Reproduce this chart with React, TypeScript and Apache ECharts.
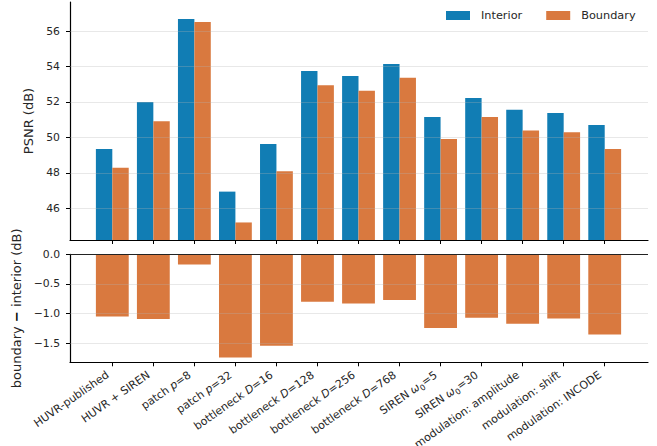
import { useEffect, useRef } from 'react';
import * as echarts from 'echarts';

// Ablation variants on the x axis (rich-text markup for italics / subscripts)
const categoryLabels = [
  'HUVR-published',
  'HUVR + SIREN',
  'patch {i|p}=8',
  'patch {i|p}=32',
  'bottleneck {i|D}=16',
  'bottleneck {i|D}=128',
  'bottleneck {i|D}=256',
  'bottleneck {i|D}=768',
  'SIREN {i|ω}{s|0}=5',
  'SIREN {i|ω}{s|0}=30',
  'modulation: amplitude',
  'modulation: shift',
  'modulation: INCODE',
];

// Mean PSNR (dB) on interior and boundary pixels
const interior = [49.34, 52.0, 56.68, 46.94, 49.63, 53.74, 53.46, 54.14, 51.15, 52.22, 51.56, 51.37, 50.7];
const boundary = [48.29, 50.91, 56.51, 45.2, 48.09, 52.94, 52.63, 53.37, 49.91, 51.15, 50.39, 50.29, 49.35];

// Tick values
const psnrTicks = [46, 48, 50, 52, 54, 56];
const gapTicks = [0, -0.5, -1.0, -1.5];

const PSNR_MIN = 44.21;
const PSNR_MAX = 57.64;
const GAP_MIN = -1.82;
const X_MIN = -1.031;
const X_MAX = 13.055;

const BLUE = '#117db4';
const ORANGE = '#d9793f';
const TEXT = '#262626';
const FONT = 'DejaVu Sans';

const gap = boundary.map((b, i) => +(b - interior[i]).toFixed(3));
const xTicks = interior.map((_, i) => i);

const barItem = (off0: number, off1: number, base: number) => (_params: any, api: any) => {
  const x = api.value(0);
  const v = api.value(1);
  const p0 = api.coord([x + off0, v]);
  const p1 = api.coord([x + off1, base]);
  return {
    type: 'rect',
    shape: {
      x: p0[0],
      y: Math.min(p0[1], p1[1]),
      width: p1[0] - p0[0],
      height: Math.abs(p1[1] - p0[1]),
    },
    style: { fill: api.visual('color') },
  };
};

const gridLine = (vals: number[]) => vals.map((v) => ({ yAxis: v }));

export default function App() {
  const ref = useRef<HTMLDivElement>(null);

  useEffect(() => {
    if (!ref.current) return;
    const chart = echarts.init(ref.current, null, { renderer: 'svg' });

    const axisLine = { show: true, onZero: false, lineStyle: { color: '#000', width: 1.2 } };
    const axisTick = (vals: number[]) => ({
      show: true,
      length: 4,
      lineStyle: { color: '#000', width: 1 },
      customValues: vals,
    });
    const guideStyle = { color: 'rgba(180,180,180,0.3)', width: 1, type: 'solid' };

    chart.setOption({
      animation: false,
      textStyle: { fontFamily: FONT, color: TEXT },
      legend: {
        left: 441,
        top: 5,
        icon: 'rect',
        itemWidth: 24,
        itemHeight: 9,
        itemGap: 24,
        data: ['Interior', 'Boundary'],
        textStyle: { fontFamily: FONT, fontSize: 11.3, color: TEXT, padding: [0, 0, 0, 6] },
      },
      grid: [
        { left: 70, right: 9, top: 2, height: 238, containLabel: false, outerBoundsMode: 'none' },
        { left: 70, right: 9, top: 254.3, height: 108, containLabel: false, outerBoundsMode: 'none' },
      ],
      xAxis: [
        {
          type: 'value',
          gridIndex: 0,
          min: X_MIN,
          max: X_MAX,
          axisLine,
          axisTick: axisTick(xTicks),
          axisLabel: { show: false },
          splitLine: { show: false },
        },
        {
          type: 'value',
          gridIndex: 1,
          min: X_MIN,
          max: X_MAX,
          axisLine,
          axisTick: axisTick(xTicks),
          axisLabel: {
            customValues: xTicks,
            formatter: (v: number) => categoryLabels[Math.round(v)],
            rotate: 35,
            align: 'right',
            verticalAlign: 'bottom',
            margin: 18,
            hideOverlap: false,
            fontFamily: FONT,
            fontSize: 11,
            color: TEXT,
            lineHeight: 16,
            rich: {
              i: { fontFamily: FONT, fontSize: 11, fontStyle: 'italic', color: TEXT, lineHeight: 16 },
              s: { fontFamily: FONT, fontSize: 8, color: TEXT, verticalAlign: 'bottom', lineHeight: 16 },
            },
          },
          splitLine: { show: false },
        },
      ],
      yAxis: [
        {
          type: 'value',
          gridIndex: 0,
          min: PSNR_MIN,
          max: PSNR_MAX,
          name: 'PSNR (dB)',
          nameLocation: 'middle',
          nameGap: 30,
          nameTextStyle: { fontFamily: FONT, fontSize: 13, color: TEXT },
          axisLine,
          axisTick: axisTick(psnrTicks),
          axisLabel: {
            customValues: psnrTicks,
            margin: 10,
            fontFamily: FONT,
            fontSize: 10.8,
            color: TEXT,
            formatter: (v: number) => String(Math.round(v)),
          },
          splitLine: { show: false },
        },
        {
          type: 'value',
          gridIndex: 1,
          min: GAP_MIN,
          max: 0,
          name: 'boundary {b|−} interior (dB)',
          nameLocation: 'middle',
          nameGap: 42,
          nameTextStyle: {
            fontFamily: FONT,
            fontSize: 13,
            color: TEXT,
            rich: { b: { fontFamily: FONT, fontSize: 13, fontWeight: 'bold', color: '#000' } },
          },
          axisLine,
          axisTick: axisTick(gapTicks),
          axisLabel: {
            customValues: gapTicks,
            margin: 10,
            fontFamily: FONT,
            fontSize: 10.8,
            color: TEXT,
            formatter: (v: number) => (Math.abs(v) < 1e-9 ? '0.0' : '−' + Math.abs(v).toFixed(1)),
          },
          splitLine: { show: false },
        },
      ],
      series: [
        {
          name: 'Interior',
          type: 'custom',
          xAxisIndex: 0,
          yAxisIndex: 0,
          itemStyle: { color: BLUE },
          renderItem: barItem(-0.4, 0, PSNR_MIN),
          encode: { x: 0, y: 1 },
          data: interior.map((v, i) => [i, v]),
        },
        {
          name: 'Boundary',
          type: 'custom',
          xAxisIndex: 0,
          yAxisIndex: 0,
          itemStyle: { color: ORANGE },
          renderItem: barItem(0, 0.4, PSNR_MIN),
          encode: { x: 0, y: 1 },
          data: boundary.map((v, i) => [i, v]),
        },
        {
          name: 'gap',
          type: 'custom',
          xAxisIndex: 1,
          yAxisIndex: 1,
          itemStyle: { color: ORANGE },
          renderItem: barItem(-0.4, 0.4, 0),
          encode: { x: 0, y: 1 },
          data: gap.map((v, i) => [i, v]),
        },
        // horizontal guides drawn over the bars
        {
          name: 'psnrGrid',
          type: 'line',
          xAxisIndex: 0,
          yAxisIndex: 0,
          data: [],
          markLine: {
            silent: true,
            symbol: 'none',
            label: { show: false },
            lineStyle: guideStyle,
            data: gridLine(psnrTicks),
          },
        },
        {
          name: 'gapGrid',
          type: 'line',
          xAxisIndex: 1,
          yAxisIndex: 1,
          data: [],
          markLine: {
            silent: true,
            symbol: 'none',
            label: { show: false },
            lineStyle: guideStyle,
            data: gridLine(gapTicks.filter((v) => v !== 0)),
          },
        },
        {
          name: 'zero',
          type: 'line',
          xAxisIndex: 1,
          yAxisIndex: 1,
          data: [],
          markLine: {
            silent: true,
            symbol: 'none',
            label: { show: false },
            lineStyle: { color: '#222', width: 1, type: 'solid' },
            data: [{ yAxis: 0 }],
          },
        },
      ],
    });

    return () => chart.dispose();
  }, []);

  return (
    <div
      ref={ref}
      style={{ position: 'fixed', left: 0, top: 0, width: 657, height: 446, background: '#fff' }}
    />
  );
}
